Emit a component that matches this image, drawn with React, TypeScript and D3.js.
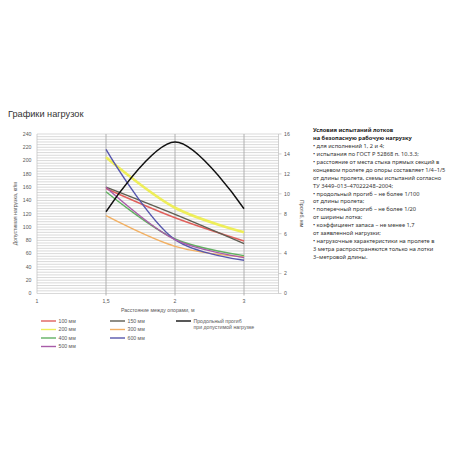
import React from 'react';
import * as d3 from 'd3';

// Categories along the x axis (distance between supports, m)
const categories = ['1', '1,5', '2', '3'];

// Allowable load, kg/m (left axis)
const load100 = [null, 158, 114, 79];
const load150 = [null, 160, 119, 75];
const load200 = [null, 205, 129, 92];
const load300 = [null, 117, 71, 55];
const load400 = [null, 153, 82, 57];
const load500 = [null, 160, 81, 54];
const load600 = [null, 217, 81, 50];

// Deflection, mm (right axis)
const deflection = [null, 8.2, 15.2, 8.5];

const leftTicks = [0, 20, 40, 60, 80, 100, 120, 140, 160, 180, 200, 220, 240];
const rightTicks = [0, 2, 4, 6, 8, 10, 12, 14, 16];

const series = [
  { name: '100 мм', values: load100, color: '#e0605c', width: 1.4 },
  { name: '150 мм', values: load150, color: '#5f5e52', width: 1.4 },
  { name: '200 мм', values: load200, color: '#eeee5a', width: 2.6 },
  { name: '300 мм', values: load300, color: '#f2b063', width: 1.4 },
  { name: '400 мм', values: load400, color: '#62b062', width: 1.4 },
  { name: '600 мм', values: load600, color: '#5656ad', width: 1.4 },
  { name: '500 мм', values: load500, color: '#a85ca8', width: 1.4 },
];

const notes = [
  { t: 'Условия испытаний лотков', b: true },
  { t: 'на безопасную рабочую нагрузку', b: true },
  { t: '• для исполнений 1, 2 и 4;' },
  { t: '• испытания по ГОСТ Р 52868 п. 10.3.3;' },
  { t: '• расстояние от места стыка прямых секций в' },
  { t: 'концевом пролете до опоры составляет 1/4–1/5' },
  { t: 'от длины пролета, схемы испытаний согласно' },
  { t: 'ТУ 3449–013–47022248–2004;' },
  { t: '• продольный прогиб – не более 1/100' },
  { t: 'от длины пролета;' },
  { t: '• поперечный прогиб – не более 1/20' },
  { t: 'от ширины лотка;' },
  { t: '• коэффициент запаса – не менее 1,7' },
  { t: 'от заявленной нагрузки;' },
  { t: '• нагрузочные характеристики на пролете в' },
  { t: '3 метра распространяются только на лотки' },
  { t: '3–метровой длины.' },
];

const W = 458;
const H = 458;
const plot = { left: 37, right: 278.5, top: 134, bottom: 293.5 };
const tickFont = '"Liberation Sans", Arial, sans-serif';

export default function App() {
  const x = d3.scaleLinear().domain([0, 3.5]).range([plot.left, plot.right]);
  const yL = d3.scaleLinear().domain([0, 240]).range([plot.bottom, plot.top]);
  const yR = d3.scaleLinear().domain([0, 16]).range([plot.bottom, plot.top]);

  const gridVals = d3.range(0, 241, 4);

  const lineL = d3
    .line<number | null>()
    .defined((d) => d != null)
    .x((_, i) => x(i))
    .y((d) => yL(d as number))
    .curve(d3.curveCatmullRom.alpha(0.5));

  const lineR = d3
    .line<number | null>()
    .defined((d) => d != null)
    .x((_, i) => x(i))
    .y((d) => yR(d as number))
    .curve(d3.curveCatmullRom.alpha(0.5));

  // legend layout: 3 columns like the original
  const legendRows = [321, 329.5, 338, 346.5];
  const legendPos = [
    { col: 0, row: 0 },
    { col: 1, row: 0 },
    { col: 0, row: 1 },
    { col: 1, row: 1 },
    { col: 0, row: 2 },
    { col: 1, row: 2 },
    { col: 0, row: 3 },
  ];
  const legendCols = [41, 110];

  return (
    <svg
      width={W}
      height={H}
      style={{ position: 'absolute', left: 0, top: 0, background: '#fff' }}
    >
      <text x={8} y={117} fontFamily={tickFont} fontSize={9.2} fill="#333">
        Графики нагрузок
      </text>

      {/* horizontal grid */}
      <g>
        {gridVals.map((v) => (
          <line
            key={v}
            x1={plot.left}
            x2={plot.right}
            y1={yL(v)}
            y2={yL(v)}
            stroke="#c9c9c9"
            strokeWidth={0.7}
          />
        ))}
      </g>

      {/* vertical category lines */}
      {categories.map((c, i) => (
        <line
          key={c}
          x1={x(i)}
          x2={x(i)}
          y1={plot.top}
          y2={plot.bottom + (i === 0 ? 0 : 2)}
          stroke={i === 0 ? '#bfbfbf' : '#a9a9a9'}
          strokeWidth={i === 0 ? 0.7 : 0.9}
        />
      ))}
      <line x1={plot.right} x2={plot.right} y1={plot.top} y2={plot.bottom} stroke="#bfbfbf" strokeWidth={0.7} />
      {rightTicks.map((t) => (
        <line key={t} x1={plot.right} x2={plot.right + 3} y1={yR(t)} y2={yR(t)} stroke="#bfbfbf" strokeWidth={0.7} />
      ))}

      {/* left axis labels */}
      {leftTicks.map((t) => (
        <text key={t} x={31.5} y={yL(t)} dy="0.35em" textAnchor="end" fontFamily={tickFont} fontSize={5.2} fill="#595959">
          {t}
        </text>
      ))}
      {/* right axis labels */}
      {rightTicks.map((t) => (
        <text key={t} x={284} y={yR(t)} dy="0.35em" fontFamily={tickFont} fontSize={5.2} fill="#595959">
          {t}
        </text>
      ))}
      {/* x labels */}
      {categories.map((c, i) => (
        <text key={c} x={x(i)} y={301.5} dy="0.35em" textAnchor="middle" fontFamily={tickFont} fontSize={5.2} fill="#595959">
          {c}
        </text>
      ))}

      {/* axis titles */}
      <text
        transform={`translate(15,${(plot.top + plot.bottom) / 2}) rotate(-90)`}
        textAnchor="middle"
        dy="0.35em"
        fontFamily={tickFont}
        fontSize={5.2}
        fill="#595959"
      >
        Допустимая нагрузка, кг/м
      </text>
      <text
        transform={`translate(302,${(plot.top + plot.bottom) / 2}) rotate(90)`}
        textAnchor="middle"
        dy="0.35em"
        fontFamily={tickFont}
        fontSize={5.2}
        fill="#595959"
      >
        Прогиб, мм
      </text>
      <text x={(plot.left + plot.right) / 2} y={310.5} dy="0.35em" textAnchor="middle" fontFamily={tickFont} fontSize={5.2} fill="#595959">
        Расстояние между опорами, м
      </text>

      {/* series */}
      {series.map((s) => (
        <path key={s.name} d={lineL(s.values) || ''} fill="none" stroke={s.color} strokeWidth={s.width} />
      ))}
      <path d={lineR(deflection) || ''} fill="none" stroke="#111" strokeWidth={1.4} />

      {/* legend */}
      {series.map((s, i) => {
        const p = legendPos[i];
        const lx = legendCols[p.col];
        const ly = legendRows[p.row];
        return (
          <g key={s.name}>
            <line x1={lx} x2={lx + 15} y1={ly} y2={ly} stroke={s.color} strokeWidth={1.4} />
            <text x={lx + 17.5} y={ly} dy="0.35em" fontFamily={tickFont} fontSize={5.2} fill="#595959">
              {s.name}
            </text>
          </g>
        );
      })}
      <line x1={176} x2={191} y1={321} y2={321} stroke="#111" strokeWidth={1.4} />
      <text x={193.5} y={321} dy="0.35em" fontFamily={tickFont} fontSize={5.2} fill="#595959">
        Продольный прогиб
      </text>
      <text x={193.5} y={327} dy="0.35em" fontFamily={tickFont} fontSize={5.2} fill="#595959">
        при допустимой нагрузке
      </text>

      {/* test conditions */}
      <g fontFamily='"Noto Sans", sans-serif' fontSize={5.7}>
        {notes.map((n, i) => (
          <text
            key={i}
            x={313}
            y={130 + i * 7.94}
            dy="0.35em"
            fontWeight={n.b ? 700 : 400}
            fill={n.b ? '#1a1a1a' : '#333'}
          >
            {n.t}
          </text>
        ))}
      </g>
    </svg>
  );
}
